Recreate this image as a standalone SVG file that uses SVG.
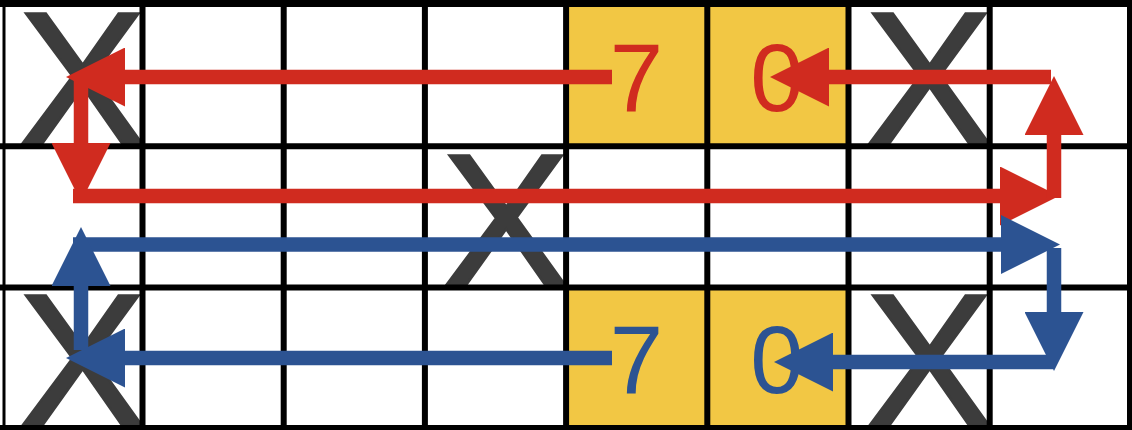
<svg xmlns="http://www.w3.org/2000/svg" width="1132" height="430" viewBox="0 0 1132 430">
  <style>
    .cell-y { fill: #F2C744; }
    .grid line { stroke: #000; stroke-width: 6; }
    .xmark { font-family: "Liberation Sans", Arial, sans-serif; font-size: 193px; fill: #3C3C3C; stroke: #3C3C3C; stroke-width: 2.5; text-anchor: middle; }
    .num { font-family: "Liberation Sans", Arial, sans-serif; font-size: 96px; text-anchor: middle; }
    .red { fill: #D02B1F; }
    .blue { fill: #2C5392; }
    .ar { fill: none; stroke-width: 14.5; stroke-linecap: butt; }
    .ar.r { stroke: #D02B1F; marker-end: url(#hr); }
    .ar.b { stroke: #2C5392; marker-end: url(#hb); }
  </style>
  <defs>
    <marker id="hr" viewBox="0 0 59 59" refX="1" refY="29.5" markerWidth="59" markerHeight="59" markerUnits="userSpaceOnUse" orient="auto">
      <path d="M0,0 L59,29.5 L0,59 Z" fill="#D02B1F"/>
    </marker>
    <marker id="hb" viewBox="0 0 59 59" refX="1" refY="29.5" markerWidth="59" markerHeight="59" markerUnits="userSpaceOnUse" orient="auto">
      <path d="M0,0 L59,29.5 L0,59 Z" fill="#2C5392"/>
    </marker>
  </defs>
  <rect x="0" y="0" width="1132" height="430" fill="#fff"/>
  <g id="yellow-cells">
    <rect class="cell-y" x="566" y="3" width="283" height="144"/>
    <rect class="cell-y" x="566" y="287" width="283" height="142"/>
  </g>
  <g id="x-r0c0"><text class="xmark" transform="translate(82,144) scale(1,0.98)">X</text></g>
  <g id="x-r0c6"><text class="xmark" transform="translate(929,144) scale(1,0.98)">X</text></g>
  <g id="x-r1c3"><text class="xmark" transform="translate(505.5,285.5) scale(1,0.98)">X</text></g>
  <g id="x-r2c0"><text class="xmark" transform="translate(82,426) scale(1,0.98)">X</text></g>
  <g id="x-r2c6"><text class="xmark" transform="translate(929,426) scale(1,0.98)">X</text></g>
  <g class="grid" id="grid">
    <line x1="4" y1="0" x2="4" y2="430" style="stroke-width:3"/>
    <line x1="142.5" y1="0" x2="142.5" y2="430"/>
    <line x1="283.7" y1="0" x2="283.7" y2="430"/>
    <line x1="424.9" y1="0" x2="424.9" y2="430"/>
    <line x1="566.1" y1="0" x2="566.1" y2="430"/>
    <line x1="707.3" y1="0" x2="707.3" y2="430"/>
    <line x1="848.5" y1="0" x2="848.5" y2="430"/>
    <line x1="989.7" y1="0" x2="989.7" y2="430"/>
    <line x1="1130" y1="0" x2="1130" y2="430"/>
    <line x1="0" y1="3.5" x2="1132" y2="3.5" style="stroke-width:7"/>
    <line x1="0" y1="146.3" x2="1132" y2="146.3"/>
    <line x1="0" y1="287.5" x2="1132" y2="287.5"/>
    <line x1="0" y1="428" x2="1132" y2="428"/>
  </g>
  <g id="n-top-7"><text class="num red" x="636.5" y="111">7</text></g>
  <g id="n-top-0"><text class="num red" x="777" y="111">0</text></g>
  <g id="n-bot-7"><text class="num blue" x="636.5" y="393">7</text></g>
  <g id="n-bot-0"><text class="num blue" x="777" y="393">0</text></g>
  <g id="connectors">
    <path class="ar r" d="M81,77 V144"/>
    <path class="ar r" d="M612,77 H124"/>
    <path class="ar r" d="M73,196 H1001"/>
    <path class="ar r" d="M1054,198 V134"/>
    <path class="ar r" d="M1051,77 H828"/>
    <path class="ar b" d="M73,244.5 H1002"/>
    <path class="ar b" d="M1054,248 V313"/>
    <path class="ar b" d="M1053,362 H832"/>
    <path class="ar b" d="M612,358 H124"/>
    <path class="ar b" d="M81,350 V285"/>
  </g>
</svg>
